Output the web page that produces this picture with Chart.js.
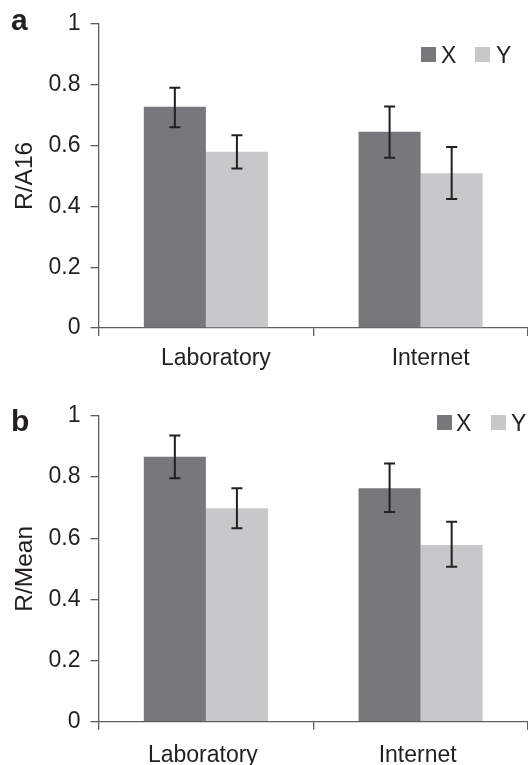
<!DOCTYPE html>
<html>
<head>
<meta charset="utf-8">
<script src="https://cdn.jsdelivr.net/npm/chart.js@4"></script>
<style>
  html, body { margin: 0; padding: 0; background: #ffffff; }
  .panel { position: relative; width: 528px; }
  #wrapA { height: 380px; }
  #wrapB { height: 385px; }
</style>
</head>
<body>
<div class="panel" id="wrapA"><canvas id="chartA"></canvas></div>
<div class="panel" id="wrapB"><canvas id="chartB"></canvas></div>
<script>
// ---------- data ----------
const categories = ['Laboratory', 'Internet'];
const seriesNames = ['X', 'Y'];
const yTickValues = [0, 0.2, 0.4, 0.6, 0.8, 1];

// panel a: R/A16
const a_X = [0.727, 0.645];
const a_X_lo = [0.660, 0.560];
const a_X_hi = [0.790, 0.728];
const a_Y = [0.579, 0.509];
const a_Y_lo = [0.524, 0.424];
const a_Y_hi = [0.634, 0.595];

// panel b: R/Mean
const b_X = [0.867, 0.764];
const b_X_lo = [0.796, 0.686];
const b_X_hi = [0.936, 0.845];
const b_Y = [0.698, 0.578];
const b_Y_lo = [0.633, 0.507];
const b_Y_hi = [0.764, 0.654];

// ---------- styles ----------
const COL_X = '#77787b';
const COL_Y = '#c7c8ca';
const TEXT = '#231f20';
const AXIS = '#5e5f61';
const FONT = 'Liberation Sans, Arial, Helvetica, sans-serif';

const errorBars = {
  id: 'errorBars',
  afterDatasetsDraw(chart) {
    const ctx = chart.ctx;
    const ys = chart.scales.y;
    ctx.save();
    ctx.strokeStyle = TEXT;
    ctx.lineWidth = 2;
    chart.data.datasets.forEach((ds, i) => {
      const meta = chart.getDatasetMeta(i);
      meta.data.forEach((bar, j) => {
        const x = bar.x;
        const yl = ys.getPixelForValue(ds.errLo[j]);
        const yh = ys.getPixelForValue(ds.errHi[j]);
        const cw = 5.5;
        ctx.beginPath();
        ctx.moveTo(x, yl); ctx.lineTo(x, yh);
        ctx.moveTo(x - cw, yl); ctx.lineTo(x + cw, yl);
        ctx.moveTo(x - cw, yh); ctx.lineTo(x + cw, yh);
        ctx.stroke();
      });
    });
    ctx.restore();
  }
};

const decorations = {
  id: 'decorations',
  afterDraw(chart, args, opts) {
    const ctx = chart.ctx;
    ctx.save();
    // panel letter
    ctx.fillStyle = TEXT;
    ctx.font = 'bold 30px ' + FONT;
    ctx.textBaseline = 'alphabetic';
    ctx.textAlign = 'left';
    ctx.fillText(opts.letter, opts.letterX, opts.letterY);
    // legend
    ctx.font = '23px ' + FONT;
    chart.data.datasets.forEach((ds, i) => {
      const it = opts.legend[i];
      ctx.fillStyle = ds.backgroundColor;
      ctx.fillRect(it.bx, opts.legendTop, 15, 15);
      ctx.fillStyle = TEXT;
      ctx.fillText(ds.label, it.tx, opts.legendTop + 16);
    });
    ctx.restore();
  }
};

function makeChart(id, yTitle, xData, xLo, xHi, yData, yLo, yHi, cfg) {
  return new Chart(document.getElementById(id), {
    type: 'bar',
    data: {
      labels: categories,
      datasets: [
        { label: seriesNames[0], data: xData, errLo: xLo, errHi: xHi,
          backgroundColor: COL_X, borderWidth: 0,
          barPercentage: 1.0, categoryPercentage: 0.578 },
        { label: seriesNames[1], data: yData, errLo: yLo, errHi: yHi,
          backgroundColor: COL_Y, borderWidth: 0,
          barPercentage: 1.0, categoryPercentage: 0.578 }
      ]
    },
    options: {
      responsive: true,
      maintainAspectRatio: false,
      animation: false,
      devicePixelRatio: 1,
      layout: { padding: { top: cfg.padTop, left: 0, right: 0, bottom: 0 } },
      plugins: {
        legend: { display: false },
        tooltip: { enabled: false },
        decorations: cfg.deco
      },
      scales: {
        x: {
          type: 'category',
          afterFit: (s) => { s.height = cfg.xHeight; },
          border: { display: true, color: AXIS, width: 1.3 },
          grid: { display: true, drawOnChartArea: false, drawTicks: true,
                  tickLength: 8, color: AXIS, lineWidth: 1.3, offset: true },
          ticks: { color: TEXT, font: { family: FONT, size: 23 },
                   padding: cfg.xPad, labelOffset: cfg.labelOffset,
                   maxRotation: 0, autoSkip: false }
        },
        y: {
          min: 0, max: 1,
          afterFit: (s) => { s.width = 98.5; },
          afterBuildTicks: (s) => { s.ticks = yTickValues.map(v => ({ value: v })); },
          border: { display: true, color: AXIS, width: 1.3 },
          grid: { display: true, drawOnChartArea: false, drawTicks: true,
                  tickLength: 8, color: AXIS, lineWidth: 1.3 },
          ticks: { color: TEXT, font: { family: FONT, size: 23 }, padding: 10,
                   callback: (v) => String(Number(v.toFixed(1))) },
          title: { display: true, text: yTitle, color: TEXT,
                   font: { family: FONT, size: 24.5 },
                   padding: { top: 11, bottom: 0 } }
        }
      }
    },
    plugins: [errorBars, decorations]
  });
}

makeChart('chartA', 'R/A16', a_X, a_X_lo, a_X_hi, a_Y, a_Y_lo, a_Y_hi, {
  padTop: 23, xHeight: 52, xPad: 9, labelOffset: 10,
  deco: { letter: 'a', letterX: 11, letterY: 30, legendTop: 47,
          legend: [{ bx: 421, tx: 441 }, { bx: 475, tx: 496 }] }
});
makeChart('chartB', 'R/Mean', b_X, b_X_lo, b_X_hi, b_Y, b_Y_lo, b_Y_hi, {
  padTop: 36, xHeight: 43.3, xPad: 12.5, labelOffset: -3,
  deco: { letter: 'b', letterX: 11, letterY: 51, legendTop: 35,
          legend: [{ bx: 437, tx: 456 }, { bx: 491, tx: 511 }] }
});
</script>
</body>
</html>
